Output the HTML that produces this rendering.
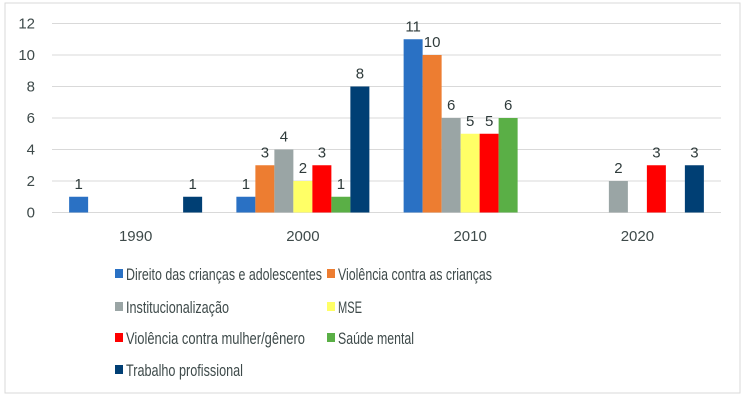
<!DOCTYPE html>
<html><head><meta charset="utf-8"><style>
body{margin:0;background:#fff}
svg{display:block;font-family:"Liberation Sans",sans-serif}
</style></head><body>
<svg id="chart" width="746" height="400">
<rect x="5" y="3" width="735" height="390" fill="#fff" stroke="#d9d9d9"/>
<g id="grid"></g><g id="bars"></g><g id="legend"></g>
</svg>
<script>
const categories=["1990","2000","2010","2020"];
const seriesNames=["Direito das crianças e adolescentes","Violência contra as crianças","Institucionalização","MSE","Violência contra mulher/gênero","Saúde mental","Trabalho profissional"];
const colors=["#2a71c4","#ed7d31","#9aa5a5","#ffff66","#ff0000","#5aaf46","#003f74"];
const s1=[1,1,11,0];
const s2=[0,3,10,0];
const s3=[0,4,6,2];
const s4=[0,2,5,0];
const s5=[0,3,5,3];
const s6=[0,1,6,0];
const s7=[1,8,0,3];
const series=[s1,s2,s3,s4,s5,s6,s7];
const yTicks=[0,2,4,6,8,10,12];
const NS="http://www.w3.org/2000/svg";
const x0=52,x1=721,yb=212.5,yt=23.5,ymax=12;
const y=v=>yb-(yb-yt)*v/ymax;
const gw=(x1-x0)/categories.length,bw=19;
function mk(tag,attrs,parent,text){const e=document.createElementNS(NS,tag);for(const k in attrs)e.setAttribute(k,attrs[k]);if(text!==undefined)e.textContent=text;parent.appendChild(e);return e;}
const grid=document.getElementById('grid'),bars=document.getElementById('bars'),leg=document.getElementById('legend');
yTicks.forEach(t=>{
 const l=mk('line',{x1:x0,x2:x1,y1:y(t),y2:y(t),stroke:'#d9d9d9','stroke-width':1},grid);
 
 
 const tx=mk('text',{x:35,y:y(t)+5,'text-anchor':'end','font-size':15,fill:'#3e4a4a'},grid,t);
 
 
});
categories.forEach((c,i)=>{
 const cx=x0+gw*(i+0.5);
 const t=mk('text',{x:cx,y:241,'text-anchor':'middle','font-size':15,fill:'#3e4a4a'},grid,c);
 
 
 series.forEach((s,j)=>{
  const v=s[i]; if(!v)return;
  const bx=cx-bw*series.length/2+bw*j;
  const r=mk('rect',{x:bx,y:y(v),width:bw,height:yb-y(v),fill:colors[j]},bars);
  
  
  const lt=mk('text',{x:bx+bw/2,y:y(v)-8,'text-anchor':'middle','font-size':15,fill:'#2f3b3b'},bars,v);
  
  
 });
});
const lx=[115,327],ly=[274,307,338,370];
const lw=[196,154,103,24,179,76,117];
seriesNames.forEach((n,j)=>{
 const px=lx[j%2],py=ly[Math.floor(j/2)];
 const g=mk('g',{},leg);
 
 
 mk('rect',{x:px,y:py-5,width:8,height:9,fill:colors[j]},g);
 mk('text',{x:px+11,y:py+6,'font-size':16.5,fill:'#3e4a4a',textLength:lw[j],lengthAdjust:'spacingAndGlyphs'},g,n);
});
</script>
</body></html>
